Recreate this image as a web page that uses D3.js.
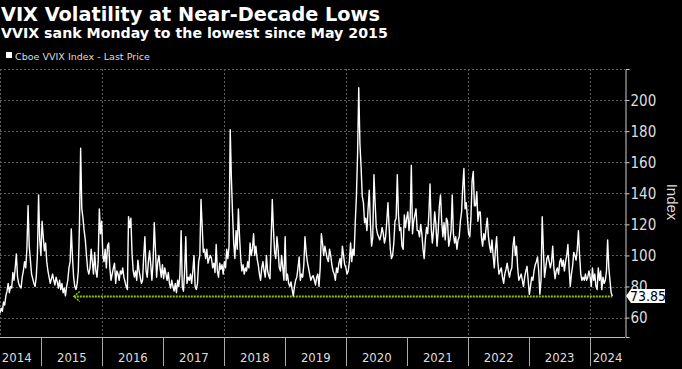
<!DOCTYPE html>
<html>
<head>
<meta charset="utf-8">
<title>VVIX</title>
<style>
body { margin: 0; background: #000; }
svg { display: block; background: #000; }
text { font-family: "Liberation Sans Narrow", "DejaVu Sans Condensed", sans-serif; }
.title { font-family: "DejaVu Sans", sans-serif; font-weight: bold; fill: #fff; }
.legend { font-family: "DejaVu Sans", sans-serif; fill: #ddd; }
.grid line { stroke: #5a5a5a; stroke-dasharray: 2,2; }
.yaxis path, .yaxis line { stroke: #ccc; }
.yaxis text { fill: #ddd; font-size: 15px; }
.years text { fill: #ddd; font-size: 13px; }
</style>
</head>
<body>
<svg width="682" height="369"></svg>
<script src="https://cdn.jsdelivr.net/npm/d3@7"></script>
<script>

// weekly closes of the Cboe VVIX index, from the week of 28 Apr 2014
var vvix2014 = [63,66,64,70,68,74,77,82,76,80, 79,89,84,92,101,86,82,80,79,86,
  90,96,92,104,132,106,97,88,85,82, 80,86,100,139,110,100];
var vvix2015 = [122,112,103,108,96,90,86,82,85,88, 84,81,86,83,79,84,78,82,76,79,
  74,80,84,92,96,117,99,86,80,78, 82,90,120,169,130,124,116,110,100,91,
  88,92,104,96,88,102,90,86,96,130, 114,122];
var vvix2016 = [100,96,104,92,106,108,92,84,88,92, 95,82,90,88,84,90,88,92,86,83,
  80,78,125,118,124,101,90,86,90,84, 97,90,86,82,84,100,112,90,86,96,
  103,94,84,96,121,104,86,96,100,92, 86,94];
var vvix2017 = [85,92,88,84,89,82,79,84,80,77, 82,76,84,80,88,116,80,77,90,112,
  82,86,84,88,82,90,100,80,78,82, 96,100,136,119,102,104,98,104,95,98,
  100,98,92,95,89,107,90,86,95,91, 94,88];
var vvix2018 = [96,92,104,98,106,181,150,127,108,98, 116,104,130,112,98,90,94,88,92,90,
  96,92,108,100,104,114,100,106,98,94, 88,84,92,96,90,86,100,90,87,85,
  110,136,117,102,98,112,104,92,90,100, 92,84];
var vvix2019 = [112,84,88,82,80,83,78,74,80,84, 86,92,99,84,88,86,94,112,102,96,
  92,88,84,86,87,84,81,86,88,80, 92,114,108,100,106,102,98,96,104,100,
  94,90,88,84,92,89,95,98,92,106, 100,94];
var vvix2020 = [92,88,90,96,108,96,104,100,121,138, 165,208,172,157,138,134,121,124,116,130,
  142,120,106,112,152,134,118,114,112,110, 113,118,114,108,112,122,134,118,104,98,
  100,108,122,124,152,126,116,118,106,104, 126,118];
var vvix2021 = [124,128,116,124,158,114,122,126,130,116, 116,112,120,114,104,98,110,118,114,126,
  146,118,108,116,128,120,106,116,132,139, 122,112,121,110,124,122,106,110,116,139,
  114,108,112,104,110,112,122,128,144,156, 130,134];
var vvix2022 = [124,114,112,124,148,154,132,132,141,122, 128,128,112,106,114,110,118,124,112,106,
  102,110,100,92,104,112,96,88,90,92, 86,82,88,91,95,90,86,90,92,106,
  112,100,106,92,84,86,88,84,80,86, 90,93];
var vvix2023 = [84,75,80,86,84,90,94,96,99,90, 75,84,125,104,86,92,98,100,96,92,
  96,106,92,85,90,92,88,96,98,93, 97,90,96,100,107,92,80,88,93,102,
  100,97,104,116,100,88,84,86,84,88, 84,86];
var vvix2024 = [90,86,80,92,84,88,80,78,92,84, 90,78,86,82,84,90,110,92,84,76, 73.85];

var firstWeek = "2014-04-28";
var lowSince = "2015-07-14";   // where the green arrow starts
var yTicks = [60, 80, 100, 120, 140, 160, 180, 200];
var yearLabels = [2014, 2015, 2016, 2017, 2018, 2019, 2020, 2021, 2022, 2023, 2024];
var gridYears = [2016, 2018, 2020, 2022, 2024];

var parse = d3.timeParse("%Y-%m-%d");
var values = [].concat(vvix2014, vvix2015, vvix2016, vvix2017, vvix2018, vvix2019,
  vvix2020, vvix2021, vvix2022, vvix2023, vvix2024);
var data = values.map(function(v, i) {
  return { date: d3.timeDay.offset(parse(firstWeek), 7 * i), value: v };
});
var last = data[data.length - 1];

var svg = d3.select("svg");
var plotL = 0, plotR = 625, plotT = 69, plotB = 337;

var x = d3.scaleTime()
    .domain([parse("2014-03-11"), parse("2024-07-28")])
    .range([-8, plotR]);
var y = d3.scaleLinear()
    .domain([47.5, 220])
    .range([plotB, plotT]);

// titles
function fit(sel, width) {
  var w = sel.node().getComputedTextLength();
  var fs = parseFloat(sel.attr("font-size"));
  sel.attr("font-size", fs * width / w);
}
svg.append("text").attr("class", "title").attr("x", 1).attr("y", 21)
    .attr("font-size", 20).text("VIX Volatility at Near-Decade Lows")
    .call(fit, 379);
svg.append("text").attr("class", "title").attr("x", 1).attr("y", 38)
    .attr("font-size", 14).text("VVIX sank Monday to the lowest since May 2015")
    .call(fit, 387);

svg.append("rect").attr("x", 6).attr("y", 52).attr("width", 6).attr("height", 6).attr("fill", "#fff");
svg.append("text").attr("class", "legend").attr("x", 15).attr("y", 60)
    .attr("font-size", 11).text("Cboe VVIX Index - Last Price")
    .call(fit, 135);

// grid
var grid = svg.append("g").attr("class", "grid");
grid.selectAll(".h")
    .data(yTicks.concat([220]))
  .enter().append("line")
    .attr("x1", plotL).attr("x2", plotR)
    .attr("y1", function(d) { return Math.round(y(d)) + 0.5; })
    .attr("y2", function(d) { return Math.round(y(d)) + 0.5; });
grid.selectAll(".v")
    .data(gridYears)
  .enter().append("line")
    .attr("x1", function(d) { return Math.round(x(new Date(d, 0, 1))) + 0.5; })
    .attr("x2", function(d) { return Math.round(x(new Date(d, 0, 1))) + 0.5; })
    .attr("y1", plotT).attr("y2", plotB);
grid.append("line").attr("x1", 0.5).attr("x2", 0.5).attr("y1", plotT).attr("y2", plotB);

// low marker
var lowY = Math.round(y(last.value)) + 0.5;
var xLow = x(parse(lowSince));
svg.append("line")
    .attr("x1", xLow).attr("x2", x(last.date))
    .attr("y1", lowY).attr("y2", lowY)
    .attr("stroke", "#8cc800").attr("stroke-width", 2).attr("stroke-dasharray", "2,1");
svg.append("path")
    .attr("d", "M" + (xLow + 6) + "," + (lowY - 5) + "L" + xLow + "," + lowY + "L" + (xLow + 6) + "," + (lowY + 5))
    .attr("fill", "none").attr("stroke", "#8cc800").attr("stroke-width", 1.5).attr("stroke-dasharray", "2,1");

// series
svg.append("clipPath").attr("id", "clip")
  .append("rect").attr("x", plotL).attr("y", plotT).attr("width", plotR - plotL).attr("height", plotB - plotT);
svg.append("path")
    .datum(data)
    .attr("clip-path", "url(#clip)")
    .attr("fill", "none")
    .attr("stroke", "#fff")
    .attr("stroke-width", 1.4)
    .attr("stroke-linejoin", "round")
    .attr("d", d3.line()
        .x(function(d) { return x(d.date); })
        .y(function(d) { return y(d.value); }));

// right axis
svg.append("g")
    .attr("class", "yaxis")
    .attr("transform", "translate(" + (plotR + 0.5) + ",0)")
    .call(d3.axisRight(y).tickValues(yTicks).tickSize(4).tickSizeOuter(4).tickPadding(1))
    .call(function(g) { g.selectAll("text").attr("dy", "0.36em"); });

svg.append("text")
    .attr("transform", "translate(667," + 202 + ") rotate(90)")
    .attr("text-anchor", "middle")
    .attr("fill", "#ddd")
    .attr("font-size", 15)
    .style("font-family", "'Liberation Sans', sans-serif")
    .text("Index");

// last value tag
var ty = y(last.value);
svg.append("path")
    .attr("d", "M626," + ty + "L631," + (ty - 7) + "L665," + (ty - 7) + "L665," + (ty + 7) + "L631," + (ty + 7) + "Z")
    .attr("fill", "#fff");
svg.append("text")
    .attr("x", 648).attr("y", ty + 5)
    .attr("text-anchor", "middle")
    .attr("fill", "#000")
    .attr("font-size", 14)
    .text(d3.format(".2f")(last.value));

// bottom axis: year bands
var years = svg.append("g").attr("class", "years");
years.append("line")
    .attr("x1", plotL).attr("x2", plotR)
    .attr("y1", plotB + 0.5).attr("y2", plotB + 0.5)
    .attr("stroke", "#bbb");
years.selectAll("line.sep")
    .data(yearLabels.slice(1))
  .enter().append("line")
    .attr("class", "sep")
    .attr("x1", function(d) { return Math.round(x(new Date(d, 0, 1))) + 0.5; })
    .attr("x2", function(d) { return Math.round(x(new Date(d, 0, 1))) + 0.5; })
    .attr("y1", plotB).attr("y2", 366)
    .attr("stroke", "#aaa");
years.selectAll("text")
    .data(yearLabels)
  .enter().append("text")
    .attr("x", function(d) {
      var a = Math.max(x(new Date(d, 0, 1)), x.range()[0]);
      var b = Math.min(x(new Date(d + 1, 0, 1)), plotR);
      return (a + b) / 2;
    })
    .attr("y", 362)
    .attr("text-anchor", "middle")
    .text(function(d) { return d; });

</script>
</body>
</html>
